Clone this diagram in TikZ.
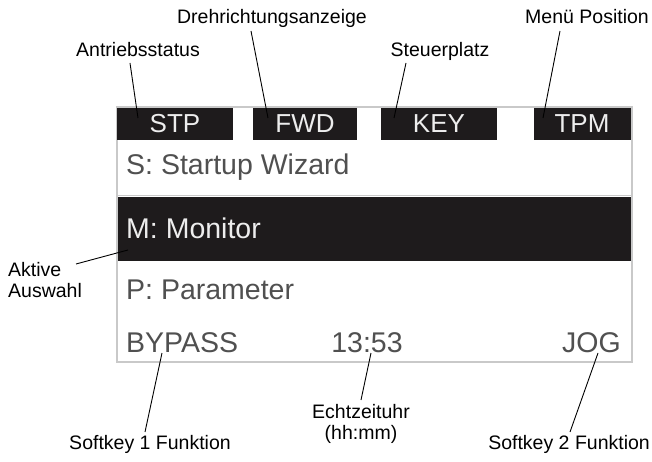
\documentclass[tikz,border=0pt]{standalone}
\usepackage{fontspec}
\setmainfont{Liberation Sans}
\definecolor{lcdink}{HTML}{1E1B1C}
\definecolor{lcdtext}{HTML}{505050}
\definecolor{lcdlight}{HTML}{EDEDED}
\definecolor{lcdframe}{HTML}{C9C9C9}
\tikzset{
  callout/.style={font=\fontsize{19.5}{21}\selectfont, text=black, inner sep=0pt},
  leader/.style={draw=black, line width=0.9pt},
  tabbox/.style={fill=lcdink, draw=none},
  tabtext/.style={font=\fontsize{26}{28}\selectfont, text=lcdlight, inner sep=0pt, anchor=base},
  rowtext/.style={font=\fontsize{28.5}{30}\selectfont, text=lcdtext, inner sep=0pt, anchor=base west},
}
\begin{document}
\begin{tikzpicture}[x=1pt, y=-1pt]
\useasboundingbox (0,0) rectangle (652,462);
\fill[white] (0,0) rectangle (652,462);

% display frame
\draw[lcdframe, line width=1.4pt, fill=white] (117,107) rectangle (632,362);
% status tabs
\fill[tabbox] (117,108) rectangle (233,140);
\fill[tabbox] (253,108) rectangle (357,140);
\fill[tabbox] (381,108) rectangle (497,140);
\fill[tabbox] (534,108) rectangle (631,140);
\node[tabtext] (stp) at (175,133) {STP};
\node[tabtext] (fwd) at (305,133) {FWD};
\node[tabtext] (key) at (439,133) {KEY};
\node[tabtext] (tpm) at (582,133) {TPM};

% menu rows
\draw[lcdframe, line width=1pt] (118,196) -- (631,196);
\fill[lcdink] (118,197) rectangle (631,261);
\node[rowtext] (rowS) at (126,175) {S: Startup Wizard};
\node[rowtext, text=lcdlight] (rowM) at (126,238) {M: Monitor};
\node[rowtext] (rowP) at (126,299) {P: Parameter};
\node[rowtext] (bypass) at (126,352) {BYPASS};
\node[rowtext, anchor=base] (clock) at (367,352) {13:53};
\node[rowtext, anchor=base east] (jog) at (621,352) {JOG};

% callout labels (multi-line nodes are placed by their last baseline)
\node[callout, anchor=base] (lAnt) at (138,57) {Antriebsstatus};
\node[callout, anchor=base] (lDreh) at (272,24) {Drehrichtungsanzeige};
\node[callout, anchor=base] (lSteu) at (440,57) {Steuerplatz};
\node[callout, anchor=base east] (lMenu) at (649,24) {Menü Position};
\node[callout, anchor=base west, align=left] (lAkt) at (8,297) {Aktive\\Auswahl};
\node[callout, anchor=base] (lSk1) at (150,449) {Softkey 1 Funktion};
\node[callout, anchor=base, align=center] (lUhr) at (361,439) {Echtzeituhr\\(hh:mm)};
\node[callout, anchor=base east] (lSk2) at (650,449) {Softkey 2 Funktion};

% leader end points
\coordinate (aAnt) at (130,63);   \coordinate (bAnt) at (138,118);
\coordinate (aDreh) at (251,31);  \coordinate (bDreh) at (268,118);
\coordinate (aSteu) at (406,63);  \coordinate (bSteu) at (394,118);
\coordinate (aMenu) at (560,31);  \coordinate (bMenu) at (543,118);
\coordinate (aAkt) at (76,264);   \coordinate (bAkt) at (128,250);
\coordinate (aSk1) at (145,432);  \coordinate (bSk1) at (162,353);
\coordinate (aUhr) at (361,400);  \coordinate (bUhr) at (371,353);
\coordinate (aSk2) at (570,432);  \coordinate (bSk2) at (598,353);

\draw[leader] (aAnt) -- (bAnt);
\draw[leader] (aDreh) -- (bDreh);
\draw[leader] (aSteu) -- (bSteu);
\draw[leader] (aMenu) -- (bMenu);
\draw[leader] (aAkt) -- (bAkt);
\draw[leader] (aSk1) -- (bSk1);
\draw[leader] (aUhr) -- (bUhr);
\draw[leader] (aSk2) -- (bSk2);
\end{tikzpicture}
\end{document}
